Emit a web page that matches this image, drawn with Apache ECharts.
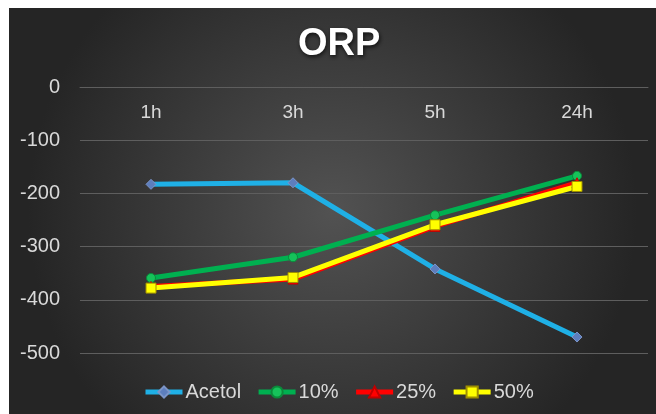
<!DOCTYPE html>
<html>
<head>
<meta charset="utf-8">
<script src="https://cdn.jsdelivr.net/npm/echarts@6/dist/echarts.min.js"></script>
<style>
html,body{margin:0;padding:0;background:#fff;}
#c{width:656px;height:414px;}
</style>
</head>
<body>
<div id="c"></div>
<script>
const categories = ['1h', '3h', '5h', '24h'];
const acetol = [-183, -180, -342, -470];
const p10 = [-359, -320, -241, -167];
const p25 = [-375, -361, -262, -180];
const p50 = [-378, -358, -259, -187];
const seriesNames = ['Acetol', '10%', '25%', '50%'];
const yTicks = { min: -500, max: 0, interval: 100 };

const chart = echarts.init(document.getElementById('c'), null, {renderer: 'canvas'});
const labelColor = '#d9d9d9';
const font = 'Liberation Sans, Arial, sans-serif';

function mk(name, data, color, symbol, symbolSize, symColor, symBorder) {
  return {
    name: name, type: 'line', data: data,
    symbol: symbol, symbolSize: symbolSize,
    showAllSymbol: true,
    lineStyle: { color: color, width: 5 },
    itemStyle: { color: symColor, borderColor: symBorder, borderWidth: 1 },
    emphasis: { disabled: true },
    animation: false
  };
}

chart.setOption({
  backgroundColor: '#ffffff',
  animation: false,
  graphic: [{
    type: 'rect', left: 9, top: 8, z: -100,
    shape: { width: 647, height: 406 },
    style: {
      fill: {
        type: 'radial', x: 0.5, y: 0.5, r: 0.75,
        colorStops: [
          { offset: 0, color: '#525252' },
          { offset: 1, color: '#252525' }
        ]
      }
    },
    silent: true
  }],
  title: {
    text: 'ORP', left: 293, top: 21,
    textStyle: {
      color: '#ffffff', fontSize: 38, fontWeight: 'bold', fontFamily: font,
      textShadowColor: 'rgba(0,0,0,0.7)', textShadowBlur: 4, textShadowOffsetX: 1, textShadowOffsetY: 2
    }
  },
  legend: {
    bottom: 7, left: 138,
    itemWidth: 37, itemHeight: 14, itemGap: 15,
    data: seriesNames,
    lineStyle: { width: 5 },
    textStyle: { color: labelColor, fontSize: 20, fontFamily: font, padding: [0, 0, 0, -2] }
  },
  grid: { left: 80, right: 8, top: 87, bottom: 61, containLabel: false },
  xAxis: {
    type: 'category', data: categories, boundaryGap: true, position: 'top',
    axisLine: { show: true, onZero: false, lineStyle: { color: '#5e5e5e', width: 1 } },
    axisTick: { show: false },
    axisLabel: { inside: true, color: labelColor, fontSize: 19, fontFamily: font, margin: 16 },
    splitLine: { show: false }
  },
  yAxis: {
    type: 'value', min: yTicks.min, max: yTicks.max, interval: yTicks.interval,
    axisLine: { show: false }, axisTick: { show: false },
    axisLabel: { color: labelColor, fontSize: 20, fontFamily: font, margin: 20 },
    splitLine: { lineStyle: { color: '#5e5e5e', width: 1 } }
  },
  series: [
    mk('Acetol', acetol, '#1fb0e6', 'diamond', 10, '#5d7ebd', '#7c95c8'),
    mk('10%', p10, '#00b050', 'circle', 9, '#16c25a', '#0a8a3a'),
    mk('25%', p25, '#ff0000', 'triangle', 10, '#ff0000', '#c00000'),
    mk('50%', p50, '#ffff00', 'rect', 10, '#ffff00', '#a09000')
  ]
});
</script>
</body>
</html>
